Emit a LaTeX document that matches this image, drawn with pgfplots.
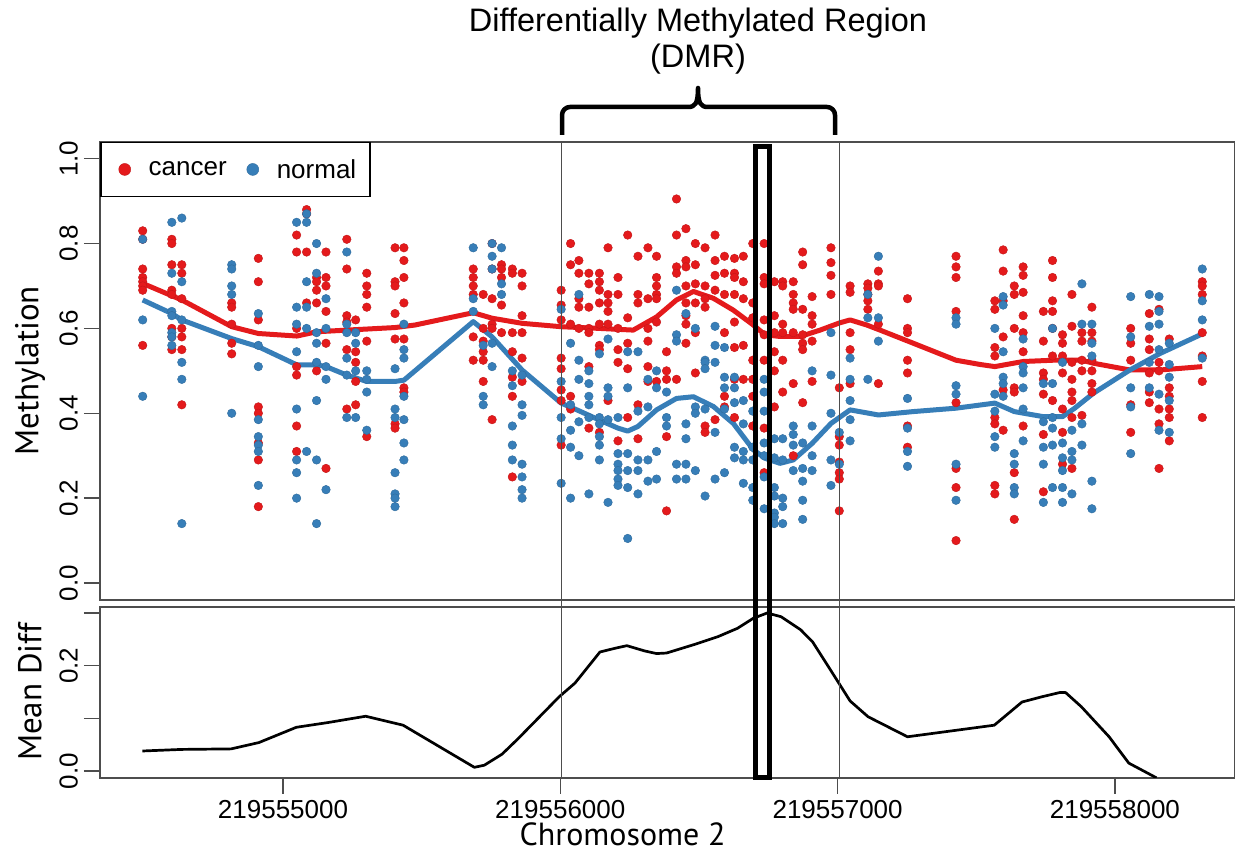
\documentclass[border=0pt]{standalone}
\usepackage{fontspec}
\setmainfont{Liberation Sans}
\newfontfamily\labfont{PT Sans}
\usepackage{pgfplots}
\pgfplotsset{compat=1.18}
\definecolor{cred}{HTML}{E41A1C}
\definecolor{cblue}{HTML}{377EB8}
\definecolor{frm}{HTML}{4D4D4D}
\pgfplotsset{
  common/.style={
    scale only axis, width=1135pt,
    xmin=4340, xmax=8433,
    tick pos=left,
    tick align=outside, major tick length=16pt,
    tick style={line width=1.4pt, color=frm},
    axis line style={line width=2pt, color=frm},
    yticklabel style={rotate=90, anchor=south, inner sep=6pt, font=\fontsize{26}{26}\selectfont},
    xticklabel style={anchor=north, inner sep=6pt, font=\fontsize{26}{26}\selectfont},
    every axis y label/.style={at={(axis description cs:-0.0617,0.5)}, rotate=90, anchor=center, font=\labfont\fontsize{33}{33}\selectfont},
  },
  dot/.style={only marks, mark=*, mark size=4.3pt, mark options={fill=#1, draw=#1!85!black, line width=0.4pt}, color=#1},
}
\begin{document}
\begin{tikzpicture}[x=1pt,y=1pt]
\useasboundingbox (0,0) rectangle (1235,856);
% ---------------- top panel ----------------
\begin{axis}[common, name=top, at={(100pt,256pt)}, anchor=south west, height=458.3pt,
  ymin=-0.04, ymax=1.04, xtick=\empty,
  ytick={0,0.2,0.4,0.6,0.8,1.0}, yticklabels={0.0,0.2,0.4,0.6,0.8,1.0},
  ylabel={Methylation},
  legend style={at={(axis description cs:0,1)}, anchor=north west, draw=black, line width=1.5pt,
    font=\fontsize{26}{26}\selectfont, inner xsep=13.5pt, inner ysep=16pt,
    nodes={inner sep=0pt},
    /tikz/every odd column/.append style={column sep=13.5pt},
    /tikz/every even column/.append style={column sep=15.5pt}},
  legend columns=2,
  legend image code/.code={\path[draw=none,fill=none] (-10.5pt,-11pt) rectangle (10.5pt,11pt); \draw[#1, mark size=6pt] plot coordinates {(0pt,0pt)};},
]
\addplot[dot=cred] table[row sep=\\] {x y\\
4494 0.83\\4494 0.81\\4494 0.74\\4494 0.72\\4494 0.71\\4494 0.70\\4494 0.69\\4494 0.56\\
4599 0.81\\4599 0.80\\4599 0.75\\4599 0.69\\4599 0.68\\4599 0.60\\4599 0.58\\4599 0.55\\
4635 0.75\\4635 0.73\\4635 0.67\\4635 0.60\\4635 0.58\\4635 0.55\\4635 0.42\\
4815 0.66\\4815 0.65\\4815 0.61\\4815 0.565\\4815 0.54\\
4911 0.765\\4911 0.71\\4911 0.62\\4911 0.415\\4911 0.40\\4911 0.33\\4911 0.29\\4911 0.18\\
5049 0.82\\5049 0.78\\5049 0.60\\5049 0.51\\5049 0.49\\5049 0.37\\5049 0.31\\
5085 0.93\\5085 0.88\\5085 0.87\\5085 0.78\\5085 0.66\\
5121 0.72\\5121 0.71\\5121 0.69\\5121 0.66\\5121 0.50\\
5155 0.78\\5155 0.72\\5155 0.70\\5155 0.64\\5155 0.565\\5155 0.27\\
5230 0.81\\5230 0.74\\5230 0.63\\5230 0.615\\5230 0.55\\5230 0.41\\
5262 0.62\\5262 0.545\\5262 0.52\\5262 0.475\\5262 0.42\\
5302 0.73\\5302 0.70\\5302 0.68\\5302 0.65\\5302 0.57\\5302 0.345\\
5404 0.79\\5404 0.71\\5404 0.70\\5404 0.635\\5404 0.575\\5404 0.375\\5404 0.365\\
5436 0.79\\5436 0.76\\5436 0.72\\5436 0.66\\5436 0.575\\5436 0.46\\5436 0.45\\
5686 0.74\\5686 0.72\\5686 0.70\\5686 0.68\\5686 0.58\\5686 0.525\\
5722 0.68\\5722 0.60\\5722 0.57\\5722 0.545\\5722 0.525\\5722 0.475\\
5754 0.80\\5754 0.74\\5754 0.67\\5754 0.61\\5754 0.60\\5754 0.385\\
5788 0.75\\5788 0.74\\5788 0.72\\5788 0.655\\5788 0.59\\
5827 0.74\\5827 0.73\\5827 0.59\\5827 0.545\\5827 0.485\\5827 0.44\\5827 0.25\\
5862 0.73\\5862 0.70\\5862 0.63\\5862 0.59\\5862 0.53\\5862 0.475\\
6003 0.69\\6003 0.655\\6003 0.62\\6003 0.53\\6003 0.505\\6003 0.455\\6003 0.43\\6003 0.325\\
6037 0.80\\6037 0.75\\6037 0.61\\6037 0.44\\6037 0.41\\
6067 0.76\\6067 0.73\\6067 0.67\\6067 0.65\\6067 0.60\\
6103 0.73\\6103 0.705\\6103 0.65\\6103 0.60\\6103 0.59\\6103 0.51\\6103 0.365\\
6141 0.73\\6141 0.71\\6141 0.69\\6141 0.66\\6141 0.61\\6141 0.56\\6141 0.55\\6141 0.355\\
6172 0.79\\6172 0.68\\6172 0.66\\6172 0.64\\6172 0.61\\6172 0.43\\
6208 0.72\\6208 0.68\\6208 0.60\\6208 0.55\\6208 0.52\\6208 0.335\\
6243 0.82\\6243 0.625\\6243 0.565\\6243 0.505\\6243 0.39\\
6280 0.77\\6280 0.68\\6280 0.66\\6280 0.42\\6280 0.34\\
6316 0.79\\6316 0.67\\6316 0.60\\6316 0.57\\6316 0.51\\6316 0.475\\
6347 0.77\\6347 0.72\\6347 0.70\\6347 0.68\\6347 0.67\\6347 0.615\\6347 0.475\\
6383 0.545\\6383 0.50\\6383 0.48\\6383 0.345\\6383 0.17\\
6419 0.905\\6419 0.82\\6419 0.745\\6419 0.73\\6419 0.48\\
6453 0.835\\6453 0.76\\6453 0.745\\6453 0.70\\6453 0.66\\6453 0.63\\6453 0.61\\6453 0.565\\
6487 0.80\\6487 0.75\\6487 0.705\\6487 0.66\\6487 0.59\\6487 0.495\\
6522 0.79\\6522 0.70\\6522 0.67\\6522 0.65\\6522 0.37\\6522 0.355\\
6558 0.82\\6558 0.76\\6558 0.725\\6558 0.69\\6558 0.385\\
6592 0.77\\6592 0.73\\6592 0.68\\6592 0.59\\6592 0.44\\6592 0.415\\
6628 0.765\\6628 0.73\\6628 0.72\\6628 0.68\\6628 0.615\\6628 0.555\\6628 0.48\\6628 0.39\\
6660 0.77\\6660 0.71\\6660 0.67\\6660 0.56\\6660 0.48\\
6694 0.80\\6694 0.66\\6694 0.625\\6694 0.525\\6694 0.48\\6694 0.44\\6694 0.37\\
6735 0.80\\6735 0.72\\6735 0.705\\6735 0.62\\6735 0.585\\6735 0.525\\6735 0.365\\6735 0.26\\
6772 0.71\\6772 0.63\\6772 0.59\\6772 0.545\\6772 0.50\\6772 0.415\\
6802 0.71\\6802 0.70\\6802 0.61\\6802 0.59\\6802 0.525\\6802 0.45\\
6840 0.71\\6840 0.68\\6840 0.66\\6840 0.645\\6840 0.59\\6840 0.47\\6840 0.30\\
6874 0.78\\6874 0.75\\6874 0.645\\6874 0.585\\6874 0.565\\6874 0.55\\6874 0.425\\
6908 0.675\\6908 0.63\\6908 0.61\\6908 0.57\\6908 0.475\\
6976 0.79\\6976 0.755\\6976 0.725\\6976 0.68\\
7006 0.46\\7006 0.345\\7006 0.325\\7006 0.285\\7006 0.26\\7006 0.245\\7006 0.17\\
7045 0.70\\7045 0.685\\7045 0.59\\7045 0.55\\7045 0.47\\
7109 0.705\\7109 0.695\\7109 0.68\\7109 0.665\\7109 0.645\\
7147 0.735\\7147 0.705\\7147 0.70\\7147 0.61\\7147 0.47\\
7252 0.67\\7252 0.60\\7252 0.59\\7252 0.525\\7252 0.495\\7252 0.37\\7252 0.32\\
7427 0.77\\7427 0.745\\7427 0.72\\7427 0.64\\7427 0.425\\7427 0.27\\7427 0.225\\7427 0.10\\
7567 0.665\\7567 0.645\\7567 0.555\\7567 0.535\\7567 0.39\\7567 0.375\\7567 0.23\\7567 0.21\\
7597 0.785\\7597 0.735\\7597 0.665\\7597 0.58\\7597 0.455\\7597 0.36\\
7637 0.70\\7637 0.68\\7637 0.60\\7637 0.46\\7637 0.45\\7637 0.26\\7637 0.15\\
7669 0.745\\7669 0.725\\7669 0.685\\7669 0.63\\7669 0.59\\7669 0.545\\7669 0.37\\
7742 0.64\\7742 0.57\\7742 0.495\\7742 0.48\\7742 0.445\\7742 0.35\\7742 0.215\\
7775 0.76\\7775 0.72\\7775 0.665\\7775 0.64\\7775 0.60\\7775 0.535\\7775 0.43\\
7811 0.585\\7811 0.565\\7811 0.535\\7811 0.495\\7811 0.41\\7811 0.355\\7811 0.28\\
7845 0.68\\7845 0.605\\7845 0.52\\7845 0.48\\7845 0.45\\7845 0.43\\7845 0.39\\7845 0.27\\
7881 0.59\\7881 0.57\\7881 0.525\\7881 0.50\\7881 0.395\\
7917 0.65\\7917 0.59\\7917 0.57\\7917 0.525\\7917 0.50\\7917 0.47\\7917 0.45\\
8057 0.60\\8057 0.565\\8057 0.525\\8057 0.42\\8057 0.355\\
8124 0.635\\8124 0.575\\8124 0.55\\8124 0.495\\8124 0.45\\8124 0.425\\
8159 0.645\\8159 0.52\\8159 0.50\\8159 0.41\\8159 0.375\\8159 0.27\\
8196 0.575\\8196 0.46\\8196 0.44\\8196 0.41\\8196 0.39\\8196 0.335\\
8315 0.71\\8315 0.70\\8315 0.68\\8315 0.59\\8315 0.535\\8315 0.475\\8315 0.39\\
};
\addlegendentry{cancer}
\addplot[dot=cblue] table[row sep=\\] {x y\\
4494 0.81\\4494 0.62\\4494 0.44\\
4599 0.85\\4599 0.73\\4599 0.64\\4599 0.63\\4599 0.59\\4599 0.58\\4599 0.56\\
4635 0.86\\4635 0.71\\4635 0.62\\4635 0.52\\4635 0.48\\4635 0.14\\
4815 0.75\\4815 0.74\\4815 0.70\\4815 0.68\\4815 0.40\\
4911 0.635\\4911 0.56\\4911 0.51\\4911 0.385\\4911 0.345\\4911 0.325\\4911 0.31\\4911 0.23\\
5049 0.85\\5049 0.65\\5049 0.61\\5049 0.545\\5049 0.41\\5049 0.29\\5049 0.26\\5049 0.20\\
5085 0.94\\5085 0.87\\5085 0.85\\5085 0.71\\5085 0.65\\5085 0.60\\5085 0.31\\
5121 0.80\\5121 0.73\\5121 0.59\\5121 0.565\\5121 0.52\\5121 0.43\\5121 0.29\\5121 0.14\\
5155 0.67\\5155 0.60\\5155 0.51\\5155 0.48\\5155 0.22\\
5230 0.78\\5230 0.61\\5230 0.59\\5230 0.53\\5230 0.49\\5230 0.39\\
5262 0.59\\5262 0.565\\5262 0.50\\5262 0.39\\
5302 0.50\\5302 0.48\\5302 0.45\\5302 0.36\\
5404 0.505\\5404 0.41\\5404 0.39\\5404 0.26\\5404 0.21\\5404 0.20\\5404 0.18\\
5436 0.61\\5436 0.55\\5436 0.53\\5436 0.44\\5436 0.385\\5436 0.33\\5436 0.29\\
5686 0.79\\5686 0.67\\5686 0.64\\
5722 0.56\\5722 0.44\\5722 0.42\\
5754 0.80\\5754 0.77\\5754 0.74\\5754 0.565\\5754 0.51\\
5788 0.79\\5788 0.705\\5788 0.68\\
5827 0.50\\5827 0.465\\5827 0.37\\5827 0.325\\5827 0.29\\
5862 0.49\\5862 0.42\\5862 0.395\\5862 0.28\\5862 0.25\\5862 0.22\\5862 0.20\\
6003 0.645\\6003 0.475\\6003 0.39\\6003 0.34\\6003 0.235\\
6037 0.565\\6037 0.42\\6037 0.36\\6037 0.32\\6037 0.20\\
6067 0.68\\6067 0.525\\6067 0.48\\6067 0.38\\6067 0.30\\
6103 0.50\\6103 0.47\\6103 0.44\\6103 0.42\\6103 0.39\\6103 0.21\\
6141 0.54\\6141 0.39\\6141 0.375\\6141 0.345\\6141 0.325\\6141 0.29\\
6172 0.575\\6172 0.46\\6172 0.44\\6172 0.385\\6172 0.19\\
6208 0.39\\6208 0.305\\6208 0.28\\6208 0.265\\6208 0.245\\6208 0.23\\
6243 0.545\\6243 0.46\\6243 0.305\\6243 0.265\\6243 0.225\\6243 0.105\\
6280 0.545\\6280 0.405\\6280 0.29\\6280 0.265\\6280 0.21\\
6316 0.48\\6316 0.415\\6316 0.29\\6316 0.24\\
6347 0.50\\6347 0.46\\6347 0.31\\6347 0.245\\
6383 0.45\\6383 0.39\\6383 0.37\\
6419 0.69\\6419 0.585\\6419 0.57\\6419 0.28\\6419 0.245\\
6453 0.635\\6453 0.375\\6453 0.34\\6453 0.28\\6453 0.245\\
6487 0.60\\6487 0.415\\6487 0.40\\6487 0.265\\
6522 0.525\\6522 0.52\\6522 0.505\\6522 0.41\\6522 0.205\\
6558 0.605\\6558 0.56\\6558 0.52\\6558 0.355\\6558 0.245\\
6592 0.555\\6592 0.485\\6592 0.46\\6592 0.41\\6592 0.26\\
6628 0.485\\6628 0.46\\6628 0.425\\6628 0.32\\6628 0.295\\
6660 0.43\\6660 0.375\\6660 0.31\\6660 0.29\\6660 0.235\\
6694 0.405\\6694 0.32\\6694 0.29\\6694 0.225\\6694 0.195\\
6735 0.48\\6735 0.45\\6735 0.405\\6735 0.33\\6735 0.30\\6735 0.25\\6735 0.175\\
6772 0.34\\6772 0.295\\6772 0.225\\6772 0.205\\6772 0.165\\6772 0.155\\6772 0.14\\
6802 0.34\\6802 0.29\\6802 0.20\\6802 0.18\\6802 0.14\\
6840 0.37\\6840 0.35\\6840 0.325\\6840 0.265\\
6874 0.33\\6874 0.27\\6874 0.24\\6874 0.195\\6874 0.15\\
6908 0.50\\6908 0.37\\6908 0.30\\6908 0.265\\
6976 0.59\\6976 0.49\\6976 0.40\\6976 0.29\\6976 0.23\\
7006 0.355\\7006 0.28\\
7045 0.53\\7045 0.48\\7045 0.43\\7045 0.385\\7045 0.335\\
7109 0.68\\7109 0.625\\7109 0.48\\
7147 0.77\\7147 0.625\\7147 0.57\\
7252 0.435\\7252 0.365\\7252 0.31\\7252 0.275\\
7427 0.625\\7427 0.61\\7427 0.465\\7427 0.445\\7427 0.28\\7427 0.195\\
7567 0.60\\7567 0.445\\7567 0.405\\7567 0.345\\7567 0.32\\
7597 0.675\\7597 0.655\\7597 0.545\\7597 0.485\\7597 0.47\\7597 0.44\\
7637 0.305\\7637 0.28\\7637 0.225\\7637 0.21\\
7669 0.575\\7669 0.51\\7669 0.495\\7669 0.46\\7669 0.41\\7669 0.335\\
7742 0.47\\7742 0.38\\7742 0.32\\7742 0.28\\7742 0.19\\
7775 0.60\\7775 0.47\\7775 0.39\\7775 0.365\\7775 0.325\\7775 0.225\\
7811 0.52\\7811 0.33\\7811 0.295\\7811 0.265\\7811 0.225\\7811 0.19\\
7845 0.36\\7845 0.31\\7845 0.29\\7845 0.21\\
7881 0.705\\7881 0.61\\7881 0.375\\7881 0.325\\
7917 0.61\\7917 0.565\\7917 0.535\\7917 0.24\\7917 0.175\\
8057 0.675\\8057 0.58\\8057 0.46\\8057 0.415\\8057 0.305\\
8124 0.68\\8124 0.605\\8124 0.52\\8124 0.46\\
8159 0.675\\8159 0.64\\8159 0.61\\8159 0.55\\8159 0.445\\8159 0.36\\
8196 0.565\\8196 0.515\\8196 0.485\\8196 0.43\\8196 0.355\\
8315 0.74\\8315 0.665\\8315 0.62\\8315 0.53\\
};
\addlegendentry{normal}
% smoothed means
\addplot[forget plot, cred, line width=5pt, line join=round] coordinates {
(4494,0.706) (4635,0.667) (4815,0.604) (4911,0.588) (5050,0.582) (5121,0.592) (5230,0.596)
(5404,0.602) (5476,0.608) (5686,0.637) (5754,0.624) (5862,0.612) (6003,0.604) (6141,0.600)
(6263,0.596) (6347,0.627) (6419,0.667) (6480,0.687) (6552,0.671) (6624,0.643) (6696,0.608)
(6738,0.585) (6792,0.581) (6865,0.581) (6937,0.596) (7007,0.613) (7045,0.620) (7105,0.608)
(7153,0.596) (7273,0.565) (7427,0.525) (7514,0.515) (7567,0.510) (7669,0.522) (7777,0.525)
(7881,0.525) (7922,0.518) (8054,0.502) (8163,0.502) (8315,0.510)};
\addplot[forget plot, cblue, line width=5pt, line join=round] coordinates {
(4494,0.667) (4599,0.635) (4635,0.620) (4815,0.576) (4911,0.557) (5050,0.514) (5121,0.514)
(5155,0.510) (5230,0.490) (5302,0.475) (5404,0.475) (5436,0.478) (5686,0.616) (5754,0.580)
(5862,0.502) (6003,0.424) (6060,0.408) (6141,0.384) (6208,0.365) (6243,0.358) (6280,0.369)
(6347,0.408) (6419,0.435) (6480,0.439) (6552,0.416) (6624,0.376) (6696,0.314) (6738,0.294)
(6792,0.282) (6840,0.290) (6908,0.329) (6976,0.376) (7045,0.408) (7147,0.396) (7273,0.404)
(7427,0.412) (7567,0.424) (7637,0.404) (7742,0.392) (7811,0.392) (7855,0.412) (7922,0.447)
(8054,0.502) (8163,0.541) (8315,0.587)};
\coordinate (L1t) at (axis cs:6004,1.04);
\coordinate (L2t) at (axis cs:7006,1.04);
\coordinate (Rt) at (axis cs:6704,1.029);
\end{axis}
% ---------------- bottom panel ----------------
\begin{axis}[common, name=bot, at={(100pt,78.3pt)}, anchor=south west, height=171pt,
  ymin=-0.0127, ymax=0.312,
  xtick={5000,6000,7000,8000}, xticklabels={219555000,219556000,219557000,219558000},
  ytick={0,0.1,0.2,0.3}, yticklabels={0.0,,0.2,},
  ylabel={Mean Diff},
  xlabel={Chromosome 2},
  every axis x label/.style={at={(axis description cs:0.4604,-0.3970)}, anchor=base, inner sep=0pt, font=\labfont\fontsize{32}{32}\selectfont},
]
\addplot[black, line width=2.7pt, line join=round] coordinates {
(4493,0.038) (4635,0.041) (4813,0.042) (4913,0.054) (5048,0.083) (5162,0.092) (5298,0.104)
(5433,0.087) (5690,0.007) (5726,0.011) (5790,0.032) (5847,0.061) (5996,0.141) (6053,0.167)
(6143,0.226) (6197,0.233) (6240,0.238) (6304,0.228) (6347,0.223) (6383,0.224) (6482,0.240)
(6568,0.255) (6639,0.271) (6696,0.290) (6746,0.300) (6796,0.293) (6867,0.268) (6910,0.245)
(6967,0.198) (7045,0.133) (7110,0.103) (7252,0.065) (7565,0.087) (7665,0.131) (7737,0.141)
(7801,0.149) (7822,0.149) (7879,0.122) (7979,0.065) (8050,0.015) (8150,-0.013)};
\coordinate (L1b) at (axis cs:6004,-0.0127);
\coordinate (L2b) at (axis cs:7006,-0.0127);
\coordinate (Rb) at (axis cs:6754,-0.0127);
\end{axis}
% DMR boundaries and highlighted CpG
\draw[frm, line width=1.5pt] (L1t) -- (L1b);
\draw[frm, line width=1.5pt] (L2t) -- (L2b);
\draw[black, line width=4.7pt] (Rt) rectangle (Rb);
% bracket and title
\draw[black, line width=4.5pt, line join=round]
  (562,721) -- (562,741) arc[start angle=180,end angle=90,radius=8]
  -- (688,749) .. controls (695,749) and (698,752) .. (698,768)
  .. controls (698,752) and (701,749) .. (708,749)
  -- (827,749) arc[start angle=90,end angle=0,radius=8] -- (835,721);
\node[anchor=base, inner sep=0pt, font=\fontsize{32.5}{32.5}\selectfont] at (698,824) {Differentially Methylated Region};
\node[anchor=base, inner sep=0pt, font=\fontsize{32.5}{32.5}\selectfont] at (698,788) {(DMR)};
\end{tikzpicture}
\end{document}
